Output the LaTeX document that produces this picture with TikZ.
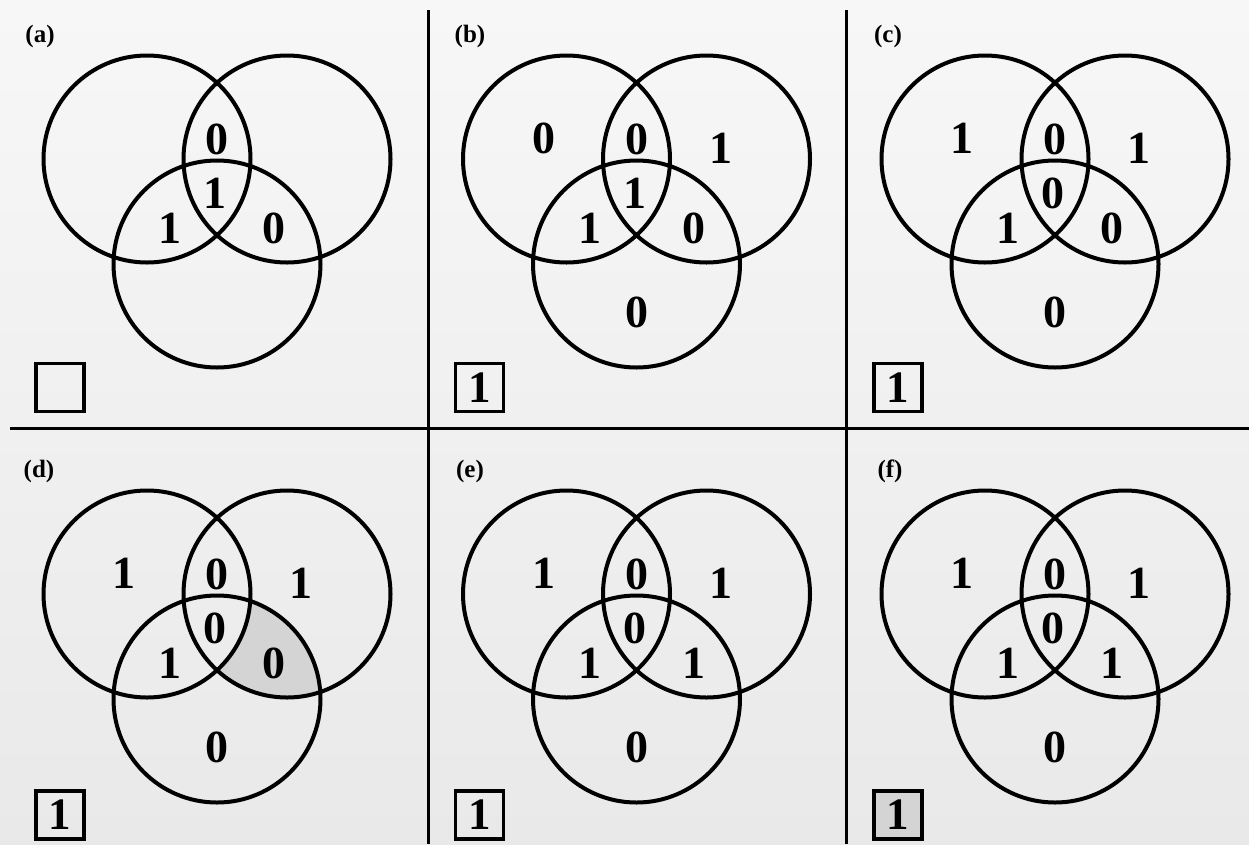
\documentclass[tikz,border=0pt]{standalone}
\usepackage{fontspec}
\setmainfont{Liberation Serif}
\definecolor{bgtop}{RGB}{247,247,247}
\definecolor{bgbot}{RGB}{233,233,233}
\definecolor{shadegray}{RGB}{212,212,212}
\tikzset{
  vcirc/.style={circle, draw=black, line width=4pt, minimum size=207pt, inner sep=0pt},
  vnum/.style={font=\fontsize{46}{46}\selectfont\bfseries, inner sep=0pt},
  plabel/.style={font=\fontsize{25}{25}\selectfont\bfseries, inner sep=0pt},
  vbox/.style={draw=black, line width=3.5pt, minimum size=48pt, inner sep=0pt, font=\fontsize{45}{45}\selectfont\bfseries},
  divider/.style={line width=3pt, draw=black},
}
% #1 prefix, #2 box y, #3 box text, #4 extra box style
\newcommand\vennbase[4]{%
  \node[vcirc] (#1L) at (147,159) {};
  \node[vcirc] (#1R) at (287,159) {};
  \node[vcirc] (#1B) at (217,264) {};
  \node[vbox,#4] (#1box) at (60,#2) {#3};
}
\newcommand\vn[3]{\node[vnum] (#1) at #2 {#3};}
\begin{document}
\begin{tikzpicture}[x=1pt,y=-1pt]
  \fill[top color=bgtop, bottom color=bgbot] (0,0) rectangle (1249,844);
  \useasboundingbox (0,0) rectangle (1249,844);

  % dividers
  \coordinate (hl) at (10,428);
  \coordinate (hr) at (1249,428);
  \coordinate (v1t) at (428,10);
  \coordinate (v1b) at (428,844);
  \coordinate (v2t) at (846,10);
  \coordinate (v2b) at (846,844);
  \draw[divider] (hl) -- (hr);
  \draw[divider] (v1t) -- (v1b);
  \draw[divider] (v2t) -- (v2b);

  % labels
  \node[plabel] (la) at (40,36) {(a)};
  \node[plabel] (lb) at (470,36) {(b)};
  \node[plabel] (lc) at (888,36) {(c)};
  \node[plabel] (ld) at (39,471) {(d)};
  \node[plabel] (le) at (470,471) {(e)};
  \node[plabel] (lf) at (890,471) {(f)};

  % (a)
  \begin{scope}
    \vennbase{a}{387.5}{}{}
    \vn{at}{(217,139)}{0}
    \vn{ac}{(215,193)}{1}
    \vn{abl}{(170,228)}{1}
    \vn{abr}{(274,228)}{0}
  \end{scope}

  % (b)
  \begin{scope}[shift={(419.5,0)}]
    \vennbase{b}{387.5}{1}{}
    \vn{bl}{(124,138)}{0}
    \vn{bt}{(217,139)}{0}
    \vn{br}{(301,148)}{1}
    \vn{bc}{(215,193)}{1}
    \vn{bbl}{(170,228)}{1}
    \vn{bbr}{(274,228)}{0}
    \vn{bb}{(217,312)}{0}
  \end{scope}

  % (c)
  \begin{scope}[shift={(838,0)}]
    \vennbase{c}{387.5}{1}{}
    \vn{cl}{(124,138)}{1}
    \vn{ct}{(217,139)}{0}
    \vn{cr}{(301,148)}{1}
    \vn{cc}{(215,193)}{0}
    \vn{cbl}{(170,228)}{1}
    \vn{cbr}{(274,228)}{0}
    \vn{cb}{(217,312)}{0}
  \end{scope}

  % (d)
  \begin{scope}[shift={(0,435)}]
    \begin{scope}
      \clip (287,159) circle[radius=103.5pt];
      \clip (217,264) circle[radius=103.5pt];
      \fill[shadegray, even odd rule] (0,0) rectangle (420,420) (147,159) circle[radius=103.5pt];
    \end{scope}
    \vennbase{d}{380}{1}{}
    \vn{dl}{(124,138)}{1}
    \vn{dt}{(217,139)}{0}
    \vn{dr}{(301,148)}{1}
    \vn{dc}{(215,193)}{0}
    \vn{dbl}{(170,228)}{1}
    \vn{dbr}{(274,228)}{0}
    \vn{db}{(217,312)}{0}
  \end{scope}

  % (e)
  \begin{scope}[shift={(419.5,435)}]
    \vennbase{e}{380}{1}{}
    \vn{el}{(124,138)}{1}
    \vn{et}{(217,139)}{0}
    \vn{er}{(301,148)}{1}
    \vn{ec}{(215,193)}{0}
    \vn{ebl}{(170,228)}{1}
    \vn{ebr}{(274,228)}{1}
    \vn{eb}{(217,312)}{0}
  \end{scope}

  % (f)
  \begin{scope}[shift={(838,435)}]
    \vennbase{f}{380}{1}{fill=shadegray}
    \vn{fl}{(124,138)}{1}
    \vn{ft}{(217,139)}{0}
    \vn{fr}{(301,148)}{1}
    \vn{fc}{(215,193)}{0}
    \vn{fbl}{(170,228)}{1}
    \vn{fbr}{(274,228)}{1}
    \vn{fb}{(217,312)}{0}
  \end{scope}
\end{tikzpicture}
\end{document}
